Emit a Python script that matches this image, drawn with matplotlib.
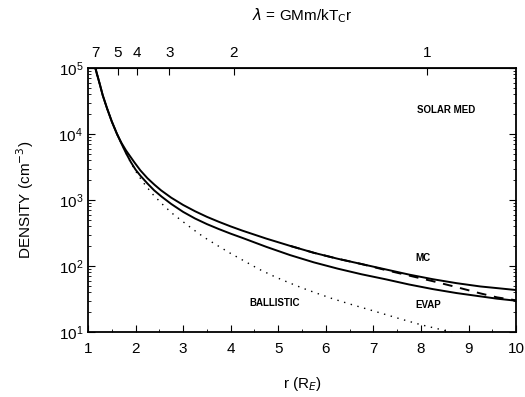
import numpy as np
import matplotlib
matplotlib.use("Agg")
import matplotlib.pyplot as plt

plt.rcParams['font.family'] = ['Liberation Sans', 'DejaVu Sans']
plt.rcParams['mathtext.fontset'] = 'dejavusans'

# curves: r (R_E) and log10 density (cm^-3)
r_mc = [1.12, 1.154, 1.2, 1.25, 1.31, 1.4, 1.5, 1.61, 1.7, 1.8, 1.97, 2.1, 2.25, 2.4,
        2.535, 2.75, 3.0, 3.25, 3.5, 3.75, 4.0, 4.25, 4.75, 5.25, 5.75, 6.25, 6.75,
        7.25, 7.75, 8.25, 8.75, 9.25, 9.6, 10.0]
logn_mc = [5.09, 5.0, 4.88, 4.75, 4.586, 4.39, 4.19, 4.00, 3.87, 3.75, 3.576, 3.45, 3.33,
           3.23, 3.147, 3.035, 2.925, 2.83, 2.745, 2.67, 2.60, 2.535, 2.415, 2.305,
           2.20, 2.11, 2.03, 1.95, 1.87, 1.80, 1.74, 1.69, 1.665, 1.636]

r_evap = [1.12, 1.154, 1.2, 1.25, 1.31, 1.4, 1.5, 1.61, 1.7, 1.8, 1.9, 2.0, 2.1, 2.25,
          2.39, 2.55, 2.75, 3.0, 3.25, 3.5, 3.75, 4.0, 4.25, 4.75, 5.25, 5.75, 6.25,
          6.75, 7.25, 7.75, 8.25, 8.75, 9.25, 9.6, 10.0]
logn_evap = [5.09, 5.0, 4.88, 4.75, 4.586, 4.39, 4.19, 4.00, 3.86, 3.71, 3.576, 3.46,
             3.37, 3.25, 3.147, 3.05, 2.94, 2.82, 2.72, 2.635, 2.56, 2.49, 2.425, 2.29,
             2.165, 2.055, 1.96, 1.875, 1.80, 1.72, 1.65, 1.59, 1.54, 1.505, 1.474]

r_dash = [5.25, 5.75, 6.25, 6.75, 7.25, 7.75, 8.25, 8.75, 9.25, 9.6, 10.0]
logn_dash = [2.305, 2.20, 2.11, 2.03, 1.94, 1.855, 1.77, 1.68, 1.585, 1.525, 1.48]

r_ball = [1.12, 1.154, 1.2, 1.25, 1.31, 1.4, 1.5, 1.61, 1.7, 1.8, 1.9, 2.0, 2.1, 2.2,
          2.37, 2.6, 2.8, 3.0, 3.2, 3.43, 3.7, 4.0, 4.3, 4.6, 4.95, 5.25, 5.53, 5.8,
          6.12, 6.5, 7.0, 7.56, 8.0, 8.46, 8.8]
logn_ball = [5.09, 5.0, 4.88, 4.75, 4.586, 4.39, 4.19, 4.00, 3.86, 3.71, 3.565, 3.44,
             3.33, 3.23, 3.08, 2.91, 2.78, 2.67, 2.56, 2.44, 2.32, 2.19, 2.07, 1.95,
             1.83, 1.74, 1.66, 1.59, 1.51, 1.425, 1.32, 1.20, 1.11, 1.03, 0.97]

lam_ticks = [7, 5, 4, 3, 2, 1]
lam_r = 8.13  # lambda * r, from the top-axis tick positions

fig = plt.figure(figsize=(5.25, 3.97), dpi=100)
ax = fig.add_axes([0.1676, 0.1637, 0.8154, 0.665])

ax.plot(r_mc, 10 ** np.array(logn_mc), color='black', lw=1.4)
ax.plot(r_evap, 10 ** np.array(logn_evap), color='black', lw=1.4)
ax.plot(r_dash, 10 ** np.array(logn_dash), color='black', lw=1.4, linestyle=(0, (5, 4)))
ax.plot(r_ball, 10 ** np.array(logn_ball), color='black', lw=1.0, linestyle=(0, (1, 4)))

ax.set_yscale('log')
ax.set_xlim(1, 10)
ax.set_ylim(10, 1e5)
ax.set_xticks(range(1, 11))
ax.set_xticks(np.arange(1.5, 10, 1.0), minor=True)
ax.tick_params(which='both', direction='in', right=True, labelsize=11)
ax.tick_params(which='major', length=5)
ax.tick_params(which='minor', length=2.5)
ax.tick_params(axis='x', pad=7)
for s in ax.spines.values():
    s.set_linewidth(1.3)

ax.set_xlabel(r'r (R$_E$)', fontsize=11, labelpad=14)
ax.set_ylabel(r'DENSITY (cm$^{-3}$)', fontsize=11, labelpad=16)

top = ax.secondary_xaxis('top', functions=(lambda r: lam_r / np.asarray(r, float),
                                           lambda l: lam_r / np.asarray(l, float)))
top.set_xticks(lam_ticks)
top.set_xticklabels([str(t) for t in lam_ticks])
top.xaxis.set_minor_locator(matplotlib.ticker.NullLocator())
top.tick_params(direction='in', length=5, labelsize=11, pad=6)
top.set_xlabel(r'$\lambda$ = GMm/kT$_\mathrm{C}$r', fontsize=11, labelpad=18)

lbl = dict(fontsize=7, fontweight='bold', ha='center', va='center')
ax.text(8.53, 2.3e4, 'SOLAR MED', **lbl)
ax.text(8.04, 132, 'MC', **lbl)
ax.text(8.15, 26, 'EVAP', **lbl)
ax.text(4.93, 27.7, 'BALLISTIC', **lbl)

fig.savefig('out.png', dpi=100)
